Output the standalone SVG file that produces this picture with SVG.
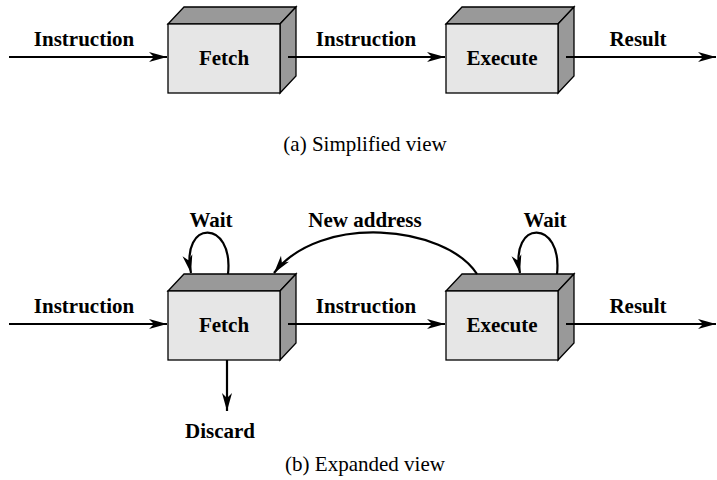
<svg xmlns="http://www.w3.org/2000/svg" width="717" height="480" viewBox="0 0 717 480">
<style>
.front{fill:#e6e6e6;stroke:#000;stroke-width:1.3}
.shade{fill:#999;stroke:#000;stroke-width:1.3;stroke-linejoin:miter}
.lbl{font-family:"Liberation Serif","Times New Roman",serif;font-weight:bold;font-size:21px;text-anchor:middle;fill:#000}
.cap{font-family:"Liberation Serif","Times New Roman",serif;font-size:21px;text-anchor:middle;fill:#000}
.edge{fill:none;stroke:#000;stroke-width:2.2;marker-end:url(#ah)}
</style>
<defs>
<marker id="ah" markerUnits="userSpaceOnUse" markerWidth="20" markerHeight="12" refX="18" refY="5" orient="auto" overflow="visible">
<path d="M0,0 L18,5 L0,10 L5,5 Z" fill="#000"/>
</marker>
</defs>

<g id="fetch-a">
<polygon class="shade" points="168,24 184,7 296,7 280,24"/>
<polygon class="shade" points="280,24 296,7 296,76 280,93"/>
<rect class="front" x="168" y="24" width="112" height="69"/>
<text class="lbl" x="224" y="65">Fetch</text>
</g>
<g id="execute-a">
<polygon class="shade" points="446,24 462,7 574,7 558,24"/>
<polygon class="shade" points="558,24 574,7 574,76 558,93"/>
<rect class="front" x="446" y="24" width="112" height="69"/>
<text class="lbl" x="502" y="65">Execute</text>
</g>
<g id="fetch-b">
<polygon class="shade" points="168,291 184,274 296,274 280,291"/>
<polygon class="shade" points="280,291 296,274 296,343 280,360"/>
<rect class="front" x="168" y="291" width="112" height="69"/>
<text class="lbl" x="224" y="332">Fetch</text>
</g>
<g id="execute-b">
<polygon class="shade" points="446,291 462,274 574,274 558,291"/>
<polygon class="shade" points="558,291 574,274 574,343 558,360"/>
<rect class="front" x="446" y="291" width="112" height="69"/>
<text class="lbl" x="502" y="332">Execute</text>
</g>

<g id="connectors">
<path class="edge" d="M9,57 L167,57"/>
<path class="edge" d="M288,57 L445,57"/>
<path class="edge" d="M566,57 L716,57"/>
<path class="edge" d="M9,324 L167,324"/>
<path class="edge" d="M288,324 L445,324"/>
<path class="edge" d="M566,324 L716,324"/>
<path class="edge" d="M227,360 L227,411"/>
<path class="edge" d="M228,274 C234,219 180,219 191,273"/>
<path class="edge" d="M557,274 C563,219 509,219 520,273"/>
<path class="edge" d="M477,274 C445,225 320,213 274,273"/>
</g>

<g id="labels">
<text class="lbl" x="84" y="46">Instruction</text>
<text class="lbl" x="366" y="46">Instruction</text>
<text class="lbl" x="638" y="46">Result</text>
<text class="cap" x="365" y="151">(a) Simplified view</text>
<text class="lbl" x="211" y="227">Wait</text>
<text class="lbl" x="365" y="227">New address</text>
<text class="lbl" x="545" y="227">Wait</text>
<text class="lbl" x="84" y="313">Instruction</text>
<text class="lbl" x="366" y="313">Instruction</text>
<text class="lbl" x="638" y="313">Result</text>
<text class="lbl" x="220" y="438">Discard</text>
<text class="cap" x="365" y="471">(b) Expanded view</text>
</g>
</svg>
